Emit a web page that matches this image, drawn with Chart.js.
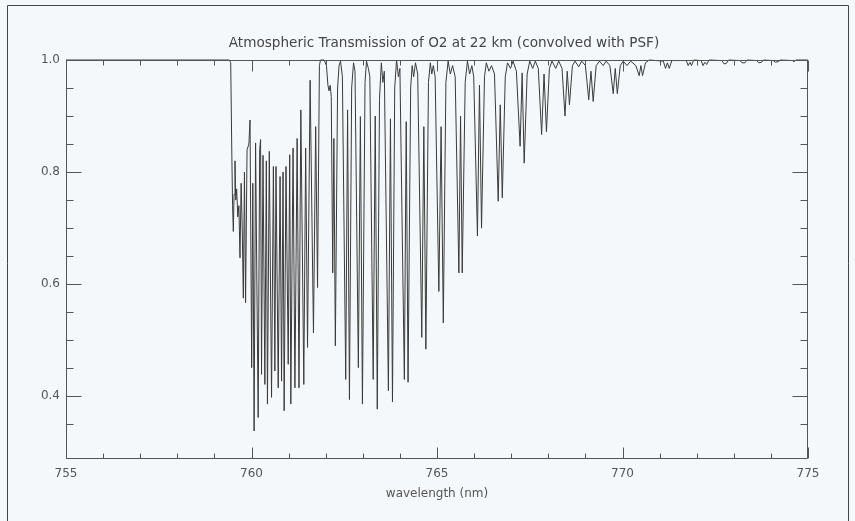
<!DOCTYPE html>
<html>
<head>
<meta charset="utf-8">
<script src="https://cdn.jsdelivr.net/npm/chart.js@4.4.1/dist/chart.umd.min.js"></script>
<style>
  html, body { margin: 0; padding: 0; background: #f5f8fa; }
  #wrap { position: relative; width: 855px; height: 521px; }
  canvas { display: block; }
</style>
</head>
<body>
<div id="wrap"><canvas id="chart" width="855" height="521"></canvas></div>
<script>
// O2 A-band transmission, [wavelength nm, transmission] vertices.
// R branch: dense lines from the band head near 759.4 nm.
const rBranch = [
  [755.0, 1.0], [759.40, 1.0], [759.44, 0.995], [759.47, 0.83], [759.49, 0.74],
  [759.51, 0.694], [759.53, 0.76], [759.555, 0.82], [759.575, 0.75], [759.60, 0.77],
  [759.63, 0.72], [759.66, 0.74], [759.69, 0.647], [759.72, 0.78], [759.75, 0.70],
  [759.78, 0.575], [759.81, 0.80], [759.84, 0.567], [759.88, 0.84], [759.93, 0.85],
  [759.96, 0.893], [760.005, 0.451], [760.035, 0.78], [760.07, 0.338], [760.11, 0.852],
  [760.145, 0.60], [760.18, 0.362], [760.22, 0.84], [760.245, 0.858], [760.27, 0.439],
  [760.31, 0.83], [760.36, 0.421], [760.40, 0.82], [760.43, 0.386], [760.48, 0.837],
  [760.54, 0.398], [760.59, 0.81], [760.63, 0.445], [760.66, 0.81], [760.72, 0.415],
  [760.77, 0.792], [760.81, 0.427], [760.85, 0.80], [760.88, 0.374], [760.93, 0.81],
  [760.99, 0.457], [761.03, 0.831], [761.06, 0.386], [761.12, 0.843], [761.17, 0.415],
  [761.23, 0.86], [761.28, 0.415], [761.33, 0.911], [761.41, 0.421], [761.46, 0.843],
  [761.51, 0.487], [761.58, 0.964], [761.67, 0.513], [761.73, 0.881], [761.78, 0.594],
  [761.83, 0.99], [761.86, 1.0]
];

// P branch: line doublets with growing spacing towards longer wavelengths.
const pBranch = [
  [761.96, 1.0], [762.02, 0.99], [762.06, 0.955], [762.09, 0.945], [762.12, 0.955], [762.15, 0.935],
  [762.19, 0.62], [762.22, 0.86], [762.26, 0.49], [762.32, 0.95], [762.36, 0.99], [762.40, 0.998], [762.45, 0.97],
  [762.54, 0.43], [762.59, 0.911], [762.64, 0.394], [762.70, 0.95], [762.75, 0.995], [762.79, 0.98],
  [762.88, 0.451], [762.935, 0.899], [762.99, 0.386], [763.06, 0.96], [763.10, 0.998], [763.15, 0.985], [763.19, 0.97],
  [763.28, 0.43], [763.335, 0.90], [763.39, 0.377], [763.45, 0.93], [763.48, 0.97], [763.50, 0.995], [763.54, 0.96], [763.58, 0.98],
  [763.69, 0.41], [763.745, 0.895], [763.80, 0.39], [763.86, 0.95], [763.91, 1.0], [763.96, 0.97], [764.00, 0.985],
  [764.12, 0.43], [764.17, 0.89], [764.22, 0.425], [764.29, 0.95], [764.33, 0.99], [764.37, 0.97], [764.42, 0.995], [764.48, 0.975],
  [764.59, 0.505], [764.645, 0.881], [764.70, 0.484], [764.77, 0.96], [764.82, 0.995], [764.86, 0.975], [764.90, 0.99], [764.95, 0.97],
  [765.05, 0.587], [765.11, 0.881], [765.17, 0.531], [765.24, 0.96], [765.30, 0.998], [765.36, 0.975], [765.42, 0.99], [765.49, 0.97],
  [765.59, 0.62], [765.635, 0.90], [765.68, 0.62], [765.76, 0.96], [765.82, 0.998], [765.88, 0.975], [765.94, 0.99], [765.99, 0.97],
  [766.09, 0.686], [766.145, 0.955], [766.20, 0.70], [766.28, 0.97], [766.33, 0.995], [766.40, 0.98], [766.47, 0.99], [766.55, 0.975],
  [766.65, 0.748], [766.705, 0.92], [766.76, 0.754], [766.84, 0.97], [766.90, 0.995], [766.98, 0.985], [767.05, 0.998], [767.14, 0.98],
  [767.24, 0.846], [767.295, 0.977], [767.35, 0.816], [767.43, 0.975], [767.50, 0.998], [767.58, 0.985], [767.65, 0.998], [767.73, 0.985],
  [767.82, 0.867], [767.885, 0.975], [767.95, 0.872], [768.03, 0.985], [768.10, 0.998], [768.20, 0.985], [768.28, 0.998], [768.37, 0.985],
  [768.45, 0.90], [768.51, 0.98], [768.57, 0.92], [768.65, 0.99], [768.72, 0.998], [768.82, 0.988], [768.90, 0.998], [769.00, 0.99],
  [769.09, 0.929], [769.15, 0.98], [769.21, 0.926], [769.29, 0.99], [769.38, 0.998], [769.48, 0.99], [769.56, 0.998], [769.66, 0.99],
  [769.75, 0.94], [769.805, 0.985], [769.86, 0.94], [769.94, 0.99], [770.02, 0.998], [770.12, 0.99], [770.22, 0.998], [770.36, 0.99],
  [770.45, 0.972], [770.495, 0.99], [770.54, 0.972], [770.62, 0.995], [770.72, 1.0]
];

// Weak lines in the far wing of the band.
const farWing = [
  [771.10, 0.998], [771.16, 0.985], [771.21, 0.995], [771.26, 0.985], [771.33, 0.999],
  [771.72, 0.999], [771.77, 0.99], [771.82, 0.996], [771.86, 0.99], [771.92, 1.0],
  [772.12, 0.999], [772.17, 0.99], [772.22, 0.996], [772.27, 0.992], [772.33, 1.0],
  [772.68, 0.999], [772.74, 0.993], [772.80, 0.994], [772.86, 1.0],
  [773.17, 0.999], [773.22, 0.995], [773.30, 0.995], [773.36, 1.0],
  [773.62, 0.999], [773.67, 0.995], [773.75, 0.996], [773.80, 1.0],
  [774.06, 0.999], [774.12, 0.996], [774.20, 0.997], [774.26, 1.0],
  [774.58, 0.999], [774.62, 0.997], [774.68, 1.0], [775.0, 1.0]
];

// Axis ticks
const xMajorTicks = [755, 760, 765, 770, 775];
const xMinorTicks = [756, 757, 758, 759, 761, 762, 763, 764, 766, 767, 768, 769, 771, 772, 773, 774];
const yMajorTicks = [0.4, 0.6, 0.8, 1.0];
const yMinorTicks = [0.35, 0.45, 0.5, 0.55, 0.65, 0.7, 0.75, 0.85, 0.9, 0.95];

const chartTitle = 'Atmospheric Transmission of O2 at 22 km (convolved with PSF)';

const spectrum = rBranch.concat(pBranch, farWing).map(([x, y]) => ({ x, y }));

const AXIS_COLOR = '#555';
const TEXT_COLOR = '#555';
const FONT = 'DejaVu Sans';

// Inward tick marks on all four sides, the axis box, the title and the outer frame.
const boxAndTicks = {
  id: 'boxAndTicks',
  afterDraw(chart) {
    const { ctx, chartArea: a, scales: { x, y } } = chart;
    ctx.save();
    ctx.strokeStyle = AXIS_COLOR;
    ctx.lineWidth = 1;
    const L = Math.round(a.left) + 0.5, R = Math.round(a.right) - 0.5;
    const T = Math.round(a.top) + 0.5, B = Math.round(a.bottom) - 0.5;
    ctx.beginPath();
    ctx.rect(L, T, R - L, B - T);
    const xt = (v, len) => {
      const px = Math.round(x.getPixelForValue(v)) + 0.5;
      ctx.moveTo(px, B); ctx.lineTo(px, B - len);
      ctx.moveTo(px, T); ctx.lineTo(px, T + len);
    };
    const yt = (v, len) => {
      const py = Math.round(y.getPixelForValue(v)) + 0.5;
      ctx.moveTo(L, py); ctx.lineTo(L + len, py);
      ctx.moveTo(R, py); ctx.lineTo(R - len, py);
    };
    xMajorTicks.forEach(v => xt(v, 11));
    xMinorTicks.forEach(v => xt(v, 5));
    yMajorTicks.forEach(v => yt(v, 15));
    yMinorTicks.forEach(v => yt(v, 7));
    ctx.stroke();

    // title, centred slightly right of the plot centre
    ctx.fillStyle = '#444';
    ctx.font = '13.6px "' + FONT + '"';
    ctx.textAlign = 'center';
    ctx.textBaseline = 'middle';
    ctx.fillText(chartTitle, (a.left + a.right) / 2 + 7, 43);

    // outer frame
    ctx.strokeStyle = '#444';
    ctx.beginPath();
    ctx.moveTo(7.5, chart.height);
    ctx.lineTo(7.5, 5.5);
    ctx.lineTo(848.5, 5.5);
    ctx.lineTo(848.5, chart.height);
    ctx.stroke();
    ctx.restore();
  }
};

new Chart(document.getElementById('chart'), {
  type: 'line',
  data: {
    datasets: [{
      data: spectrum,
      borderColor: '#3a3a3a',
      borderWidth: 1,
      pointRadius: 0,
      tension: 0,
      clip: 3
    }]
  },
  options: {
    responsive: false,
    animation: false,
    devicePixelRatio: 1,
    layout: { padding: { left: 0, right: 47, top: 60, bottom: 0 } },
    plugins: {
      legend: { display: false },
      tooltip: { enabled: false },
      title: { display: false }
    },
    scales: {
      x: {
        type: 'linear',
        min: 755,
        max: 775,
        afterBuildTicks: s => { s.ticks = xMajorTicks.map(v => ({ value: v })); },
        afterFit: s => { s.height = 62; },
        grid: { display: false, drawTicks: false },
        border: { display: false },
        ticks: {
          color: TEXT_COLOR,
          font: { family: FONT, size: 12 },
          padding: 8,
          maxRotation: 0,
          autoSkip: false,
          callback: v => String(v)
        },
        title: {
          display: true,
          text: 'wavelength (nm)',
          color: TEXT_COLOR,
          font: { family: FONT, size: 12 },
          padding: { top: 4, bottom: 20 }
        }
      },
      y: {
        type: 'linear',
        min: 0.288,
        max: 1.0,
        afterBuildTicks: s => { s.ticks = yMajorTicks.map(v => ({ value: v })); },
        afterFit: s => { s.width = 66; },
        grid: { display: false, drawTicks: false },
        border: { display: false },
        ticks: {
          color: TEXT_COLOR,
          font: { family: FONT, size: 12 },
          padding: 6,
          autoSkip: false,
          callback: v => v.toFixed(1)
        }
      }
    }
  },
  plugins: [boxAndTicks]
});
</script>
</body>
</html>
